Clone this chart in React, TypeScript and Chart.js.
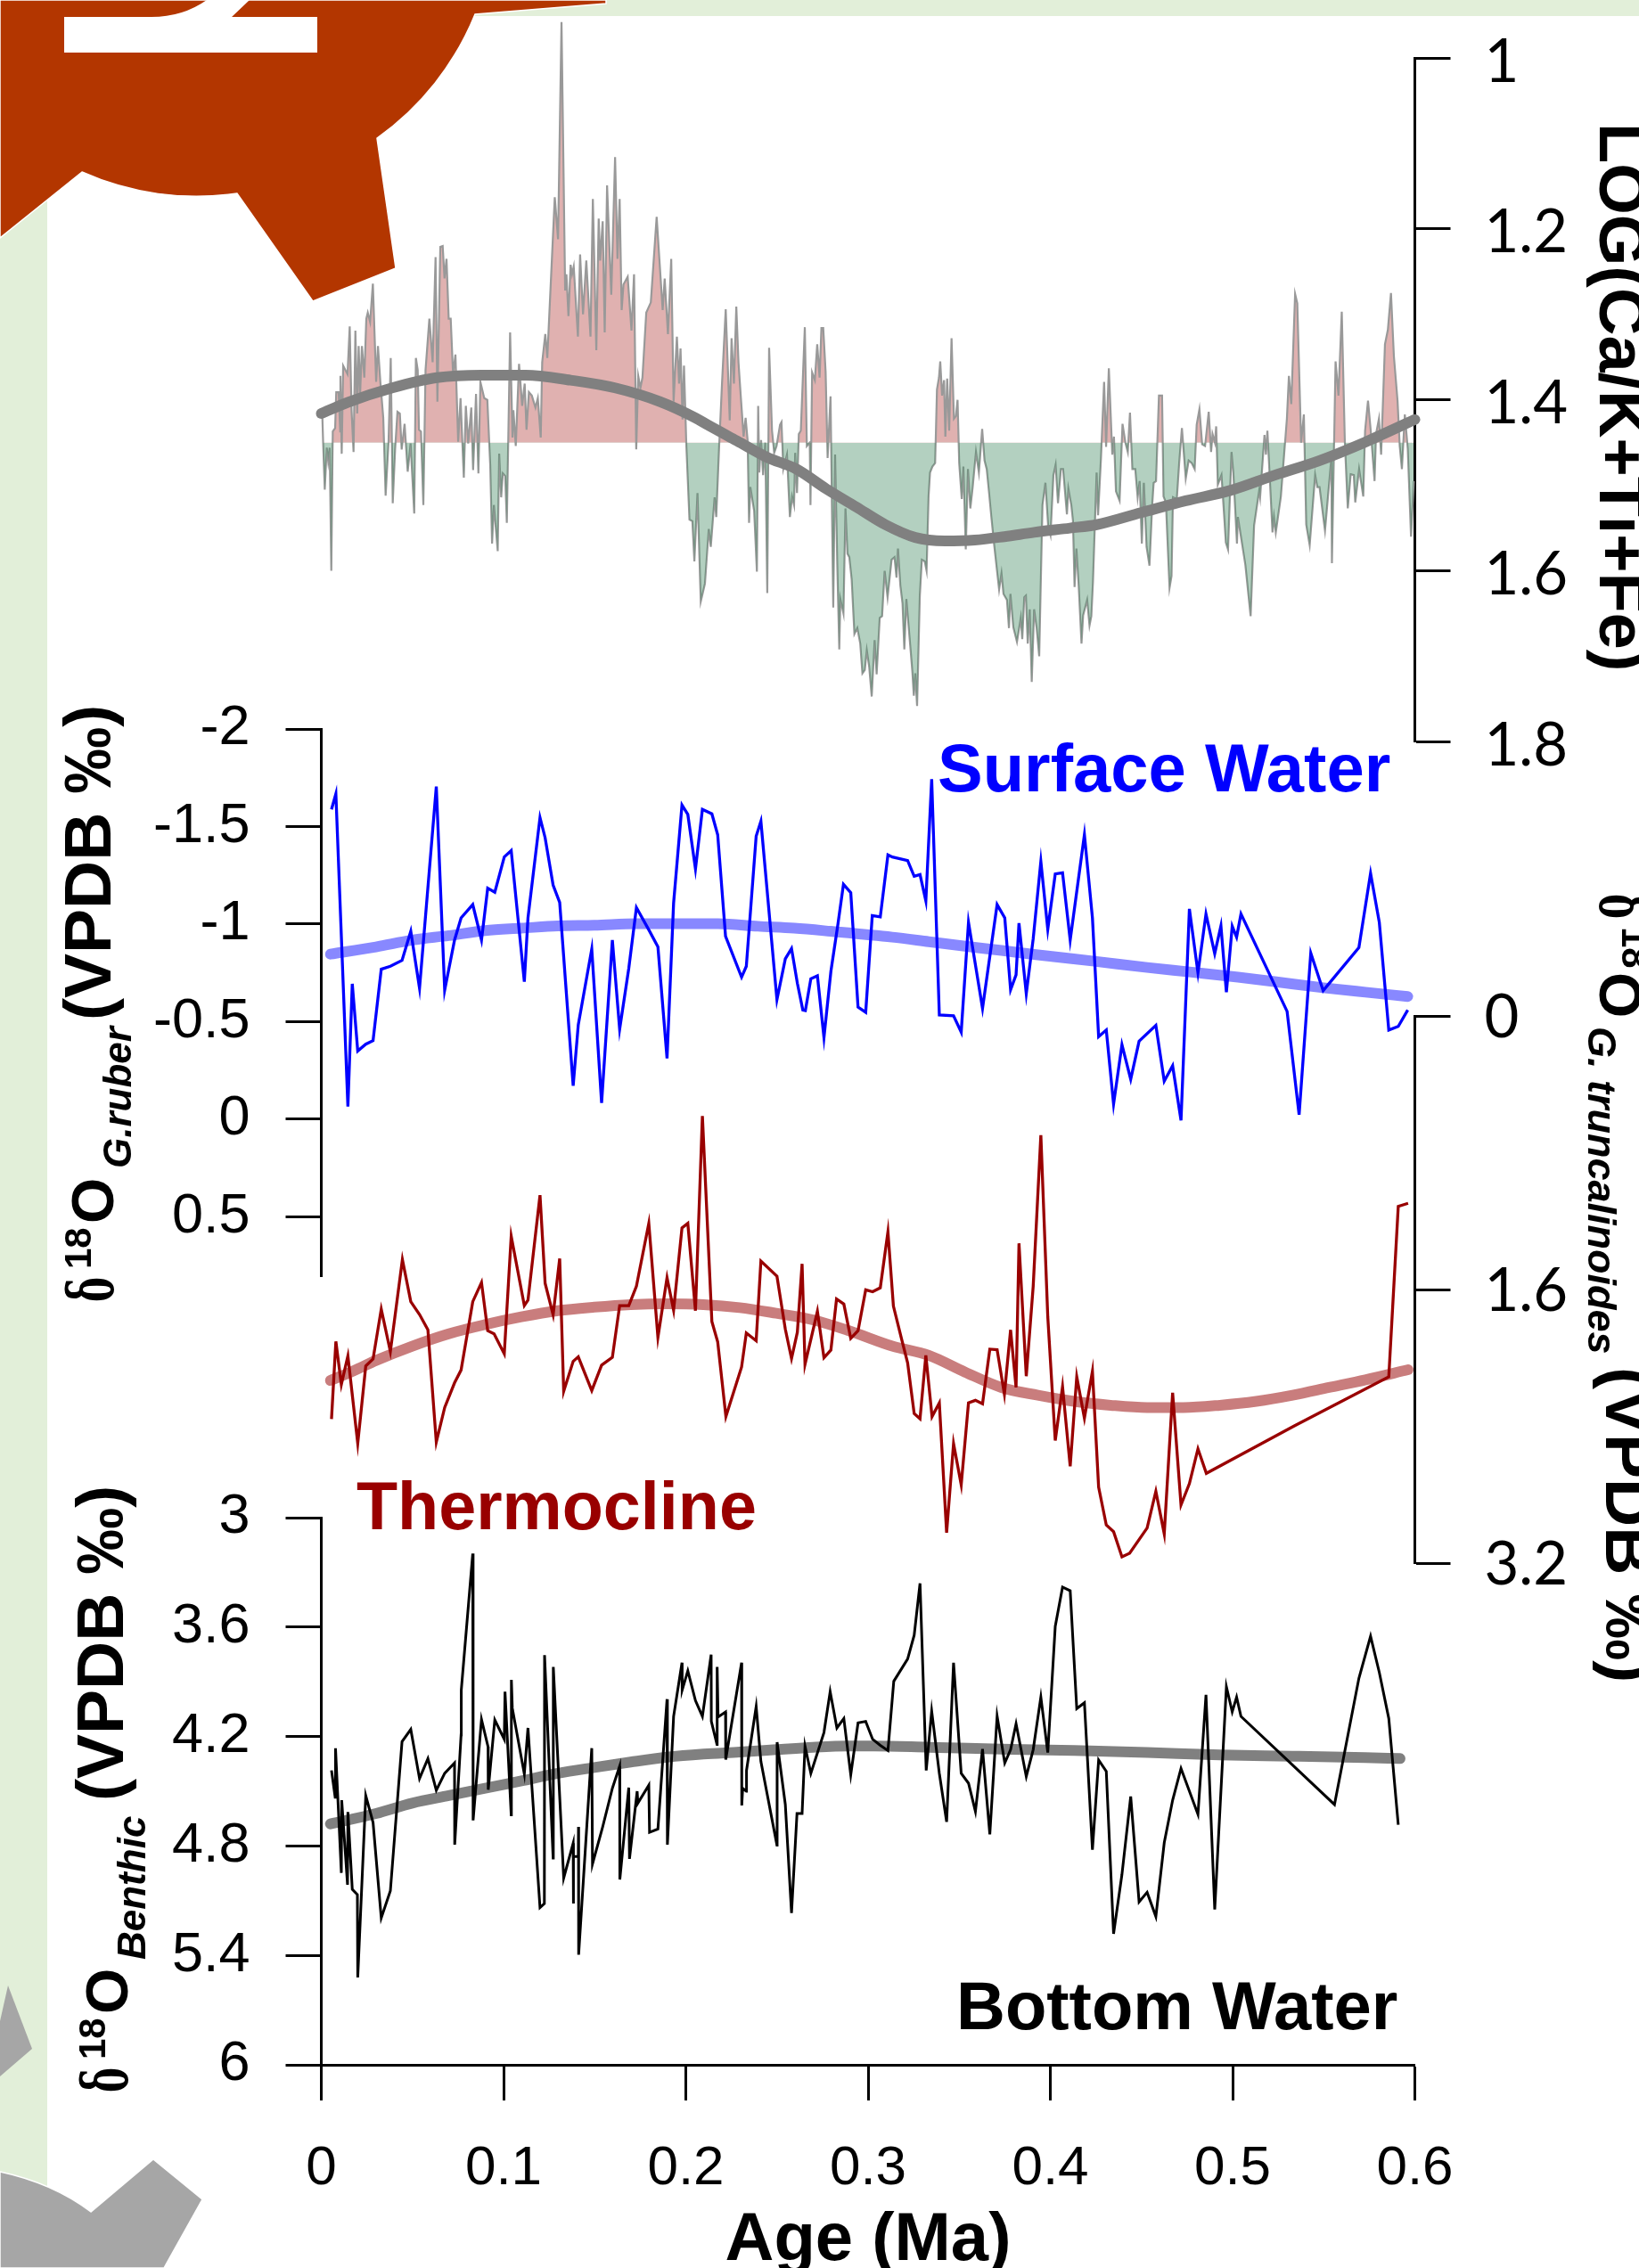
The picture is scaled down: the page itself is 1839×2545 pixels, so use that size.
import React, { useEffect, useRef } from "react";
import { Chart, registerables } from "chart.js";

Chart.register(...registerables);

// [age (Ma), value]
const caRatio: number[][] = [
[.0006,1.421],[.0011,1.456],[.0019,1.505],[.0030,1.456],[.0038,1.472],[.0046,1.456],[.0055,1.600],[.0063,1.437],[.0076,1.433],[.0082,1.391],[.0095,1.391],[.0104,1.437],[.0105,1.372],[.0112,1.463],[.0120,1.360],[.0144,1.370],[.0156,1.314],[.0166,1.412],[.0177,1.461],[.0187,1.319],[.0197,1.416],[.0205,1.337],[.0213,1.393],[.0223,1.337],[.0236,1.374],[.0247,1.305],[.0255,1.298],[.0268,1.309],[.0283,1.264],[.0301,1.379],[.0311,1.337],[.0324,1.379],[.0340,1.421],[.0353,1.512],[.0369,1.449],[.0381,1.351],[.0392,1.521],[.0405,1.458],[.0418,1.414],[.0431,1.416],[.0441,1.458],[.0457,1.428],[.0474,1.484],[.0490,1.451],[.0510,1.533],[.0519,1.351],[.0529,1.365],[.0536,1.435],[.0547,1.437],[.0560,1.523],[.0572,1.365],[.0593,1.305],[.0611,1.356],[.0627,1.233],[.0637,1.402],[.0653,1.221],[.0666,1.220],[.0676,1.258],[.0687,1.235],[.0699,1.305],[.0710,1.305],[.0723,1.370],[.0736,1.347],[.0751,1.449],[.0764,1.398],[.0782,1.491],[.0793,1.407],[.0806,1.451],[.0823,1.409],[.0833,1.482],[.0849,1.393],[.0862,1.486],[.0873,1.379],[.0894,1.398],[.0911,1.400],[.0927,1.477],[.0937,1.568],[.0947,1.523],[.0968,1.577],[.0976,1.463],[.0987,1.514],[.0996,1.486],[.1009,1.489],[.1018,1.544],[.1036,1.321],[.1049,1.444],[.1054,1.412],[.1067,1.454],[.1085,1.358],[.1102,1.407],[.1116,1.381],[.1126,1.435],[.1139,1.391],[.1155,1.395],[.1175,1.409],[.1188,1.398],[.1204,1.444],[.1212,1.356],[.1229,1.323],[.1240,1.351],[.1281,1.163],[.1299,1.212],[.1318,.958],[.1338,1.272],[.1345,1.253],[.1356,1.302],[.1368,1.242],[.1376,1.253],[.1385,1.244],[.1408,1.326],[.1420,1.230],[.1436,1.300],[.1454,1.237],[.1477,1.326],[.1490,1.165],[.1509,1.342],[.1522,1.188],[.1530,1.237],[.1544,1.191],[.1555,1.321],[.1568,1.149],[.1591,1.277],[.1612,1.116],[.1625,1.235],[.1637,1.165],[.1648,1.295],[.1658,1.265],[.1681,1.256],[.1702,1.319],[.1716,1.253],[.1728,1.458],[.1739,1.372],[.1751,1.386],[.1762,1.374],[.1783,1.298],[.1808,1.286],[.1840,1.186],[.1873,1.295],[.1884,1.258],[.1902,1.323],[.1920,1.235],[.1933,1.402],[.1951,1.326],[.1963,1.381],[.1971,1.340],[.1982,1.423],[.1990,1.360],[.2003,1.454],[.2020,1.540],[.2036,1.542],[.2047,1.589],
[.2064,1.509],[.2082,1.636],[.2105,1.615],[.2126,1.551],[.2137,1.572],[.2158,1.514],[.2167,1.537],[.2183,1.454],[.2199,1.379],[.2219,1.294],[.2241,1.424],[.2251,1.328],[.2264,1.381],[.2277,1.291],[.2289,1.356],[.2300,1.391],[.2317,1.443],[.2328,1.421],[.2339,1.447],[.2347,1.544],[.2354,1.502],[.2375,1.530],[.2390,1.601],[.2397,1.407],[.2403,1.485],[.2413,1.447],[.2424,1.488],[.2436,1.450],[.2447,1.626],[.2457,1.339],[.2473,1.436],[.2485,1.462],[.2498,1.454],[.2517,1.429],[.2525,1.426],[.2535,1.481],[.2555,1.464],[.2571,1.537],[.2583,1.513],[.2594,1.523],[.2600,1.462],[.2610,1.509],[.2620,1.440],[.2631,1.436],[.2653,1.315],[.2664,1.454],[.2680,1.450],[.2684,1.523],[.2693,1.368],[.2708,1.377],[.2721,1.335],[.2734,1.374],[.2744,1.316],[.2754,1.316],[.2767,1.367],[.2778,1.468],[.2794,1.396],[.2809,1.643],[.2819,1.464],[.2831,1.593],[.2842,1.692],[.2848,1.633],[.2865,1.650],[.2876,1.527],[.2887,1.580],[.2897,1.584],[.2910,1.610],[.2925,1.674],[.2941,1.667],[.2957,1.685],[.2969,1.720],[.2982,1.716],[.2993,1.693],[.3006,1.712],[.3020,1.747],[.3036,1.681],[.3047,1.721],[.3064,1.655],[.3077,1.653],[.3091,1.600],[.3107,1.631],[.3129,1.587],[.3145,1.584],[.3156,1.608],[.3164,1.574],[.3177,1.617],[.3189,1.638],[.3199,1.692],[.3210,1.633],[.3235,1.697],[.3243,1.718],[.3251,1.746],[.3259,1.720],[.3269,1.758],[.3284,1.629],[.3295,1.587],[.3311,1.589],[.3321,1.600],[.3332,1.513],[.3340,1.485],[.3353,1.478],[.3368,1.474],[.3378,1.388],[.3389,1.374],[.3396,1.355],[.3406,1.395],[.3417,1.377],[.3424,1.443],[.3434,1.375],[.3445,1.436],[.3458,1.328],[.3471,1.422],[.3482,1.419],[.3491,1.400],[.3500,1.474],[.3514,1.516],[.3523,1.478],[.3536,1.575],[.3548,1.481],[.3561,1.527],[.3574,1.502],[.3592,1.461],[.3608,1.485],[.3626,1.434],[.3639,1.471],[.3651,1.481],[.3664,1.509],[.3675,1.534],[.3691,1.568],[.3719,1.622],[.3732,1.603],[.3743,1.627],[.3762,1.634],[.3773,1.667],[.3781,1.627],[.3797,1.666],[.3817,1.683],[.3838,1.655],[.3846,1.680],[.3857,1.631],[.3866,1.629],[.3876,1.685],[.3887,1.645],[.3898,1.730],[.3911,1.645],[.3925,1.667],[.3939,1.700],[.3947,1.620],[.3957,1.523],[.3973,1.497],[.3988,1.547],[.4001,1.558],
[.4017,1.488],[.4029,1.476],[.4042,1.521],[.4058,1.481],[.4070,1.481],[.4091,1.534],[.4099,1.504],[.4115,1.523],[.4124,1.541],[.4133,1.619],[.4143,1.574],[.4156,1.619],[.4171,1.685],[.4180,1.652],[.4202,1.634],[.4215,1.664],[.4225,1.653],[.4234,1.613],[.4254,1.485],[.4262,1.535],[.4278,1.468],[.4295,1.379],[.4306,1.455],[.4321,1.363],[.4340,1.464],[.4349,1.443],[.4360,1.507],[.4380,1.518],[.4396,1.428],[.4412,1.450],[.4425,1.461],[.4437,1.415],[.4450,1.481],[.4466,1.481],[.4479,1.514],[.4490,1.495],[.4502,1.568],[.4513,1.497],[.4528,1.572],[.4544,1.594],[.4559,1.523],[.4567,1.497],[.4580,1.495],[.4596,1.395],[.4613,1.395],[.4621,1.513],[.4634,1.520],[.4654,1.620],[.4665,1.606],[.4673,1.514],[.4694,1.516],[.4707,1.474],[.4722,1.433],[.4743,1.492],[.4759,1.471],[.4776,1.474],[.4792,1.481],[.4803,1.429],[.4818,1.411],[.4833,1.452],[.4849,1.454],[.4869,1.414],[.4882,1.461],[.4890,1.440],[.4903,1.450],[.4910,1.431],[.4919,1.499],[.4939,1.488],[.4952,1.530],[.4963,1.567],[.4975,1.575],[.4994,1.461],[.5004,1.485],[.5024,1.568],[.5029,1.537],[.5070,1.593],[.5099,1.653],[.5118,1.547],[.5146,1.506],[.5151,1.514],[.5175,1.441],[.5183,1.464],[.5191,1.436],[.5219,1.555],[.5227,1.537],[.5237,1.555],[.5265,1.513],[.5298,1.422],[.5309,1.372],[.5322,1.405],[.5343,1.276],[.5355,1.287],[.5376,1.450],[.5391,1.417],[.5404,1.546],[.5423,1.570],[.5453,1.488],[.5465,1.502],[.5477,1.502],[.5507,1.553],[.5542,1.468],[.5545,1.591],[.5565,1.355],[.5581,1.395],[.5599,1.297],[.5616,1.450],[.5632,1.527],[.5648,1.487],[.5665,1.488],[.5673,1.520],[.5694,1.481],[.5717,1.513],[.5727,1.436],[.5743,1.401],[.5758,1.436],[.5779,1.495],[.5787,1.440],[.5803,1.422],[.5815,1.464],[.5836,1.335],[.5852,1.318],[.5869,1.275],[.5885,1.349],[.5905,1.401],[.5917,1.454],[.5929,1.481],[.5945,1.417],[.5961,1.457],[.5979,1.560],[.5994,1.495],
];
const caTrend: number[][] = [[0,1.416],[.0144,1.403],[.0389,1.386],[.0634,1.374],[.0878,1.371],[.1123,1.371],[.1368,1.377],[.1612,1.386],[.1857,1.402],[.2052,1.421],[.2118,1.429],[.2281,1.448],[.2444,1.467],[.2607,1.481],[.2770,1.504],[.2933,1.525],[.3095,1.546],[.3259,1.561],[.3422,1.565],[.3585,1.564],[.3748,1.560],[.3911,1.555],[.4107,1.550],[.4254,1.546],[.4498,1.532],[.4743,1.518],[.4987,1.506],[.5232,1.488],[.5477,1.471],[.5721,1.450],[.6,1.423]];
const caBaseline = 1.45;

const ruber: number[][] = [
[.0056,-1.588],[.0080,-1.668],[.0146,-.065],[.0170,-.694],[.0200,-.350],[.0244,-.385],[.0284,-.403],[.0329,-.769],[.0379,-.784],[.0443,-.814],[.0491,-.963],[.0539,-.671],[.0631,-1.705],[.0677,-.662],[.0731,-.918],[.0767,-1.032],[.0831,-1.100],[.0879,-.918],[.0913,-1.184],[.0952,-1.163],[.1004,-1.344],[.1042,-1.377],[.1114,-.705],[.1134,-1.032],[.1200,-1.546],[.1228,-1.443],[.1272,-1.199],[.1308,-1.111],[.1382,-.172],[.1410,-.484],[.1484,-.872],[.1538,-.084],[.1597,-.918],[.1637,-.461],[.1687,-.773],[.1729,-1.085],[.1797,-.971],[.1847,-.883],[.1897,-.312],[.1933,-1.108],[.1979,-1.610],[.2011,-1.562],[.2053,-1.283],[.2091,-1.588],[.2143,-1.565],[.2175,-1.458],[.2218,-.938],[.2306,-.728],[.2332,-.784],[.2386,-1.451],[.2412,-1.527],[.2500,-.613],[.2546,-.822],[.2580,-.875],[.2612,-.697],[.2642,-.560],[.2656,-.557],[.2686,-.720],[.2722,-.735],[.2758,-.419],[.2796,-.758],[.2835,-1.002],[.2865,-1.204],[.2905,-1.161],[.2945,-.575],[.2987,-.548],
[.3023,-1.044],[.3067,-1.037],[.3109,-1.355],[.3133,-1.344],[.3217,-1.326],[.3253,-1.245],[.3285,-1.254],[.3317,-1.119],[.3349,-1.743],[.3391,-.534],[.3469,-.530],[.3511,-.446],[.3551,-1.009],[.3628,-.568],[.3708,-1.100],[.3750,-1.032],[.3782,-.664],[.3812,-.740],[.3828,-1.005],[.3868,-.644],[.3906,-.925],[.3948,-1.321],[.3986,-.974],[.4027,-1.257],[.4067,-1.263],[.4109,-.918],[.4187,-1.458],[.4231,-1.032],[.4265,-.423],[.4307,-.457],[.4347,-.078],[.4393,-.382],[.4441,-.205],[.4487,-.400],[.4579,-.481],[.4625,-.195],[.4671,-.274],[.4717,.006],[.4763,-1.078],[.4810,-.750],[.4854,-1.052],[.4902,-.849],[.4936,-.991],[.4966,-.651],[.4998,-.989],[.5022,-.933],[.5046,-1.052],[.5299,-.553],[.5365,-.023],[.5429,-.852],[.5497,-.659],[.5693,-.880],[.5757,-1.260],[.5805,-1.009],[.5857,-.457],[.5909,-.476],[.5961,-.560],
];
const ruberTrend: number[][] = [[.0050,-.846],[.0300,-.883],[.0499,-.918],[.0699,-.941],[.0899,-.967],[.1098,-.979],[.1298,-.991],[.1498,-.994],[.1729,-1.002],[.1933,-1.002],[.2177,-1.002],[.2396,-.989],[.2596,-.979],[.2796,-.963],[.3133,-.933],[.3333,-.910],[.3532,-.887],[.3732,-.865],[.3932,-.842],[.4231,-.811],[.4531,-.778],[.4763,-.755],[.5030,-.728],[.5230,-.705],[.5497,-.674],[.5729,-.651],[.5961,-.629]];

const truncatulinoides: number[][] = [
[.0056,2.358],[.0080,1.904],[.0110,2.155],[.0146,1.988],[.0200,2.500],[.0244,2.047],[.0284,2.006],[.0329,1.715],[.0379,1.963],[.0445,1.425],[.0491,1.671],[.0539,1.746],[.0585,1.836],[.0631,2.492],[.0677,2.290],[.0731,2.146],[.0767,2.071],[.0831,1.671],[.0879,1.559],[.0913,1.841],[.0948,1.859],[.1004,1.976],[.1042,1.288],[.1114,1.694],[.1134,1.662],[.1200,1.048],[.1228,1.563],[.1272,1.748],[.1308,1.419],[.1330,2.195],[.1382,2.020],[.1410,1.994],[.1484,2.191],[.1538,2.042],[.1597,1.997],[.1637,1.694],[.1687,1.694],[.1729,1.581],[.1797,1.213],[.1847,1.880],[.1897,1.531],[.1933,1.721],[.1979,1.240],[.2011,1.213],[.2053,1.724],[.2091,.585],[.2143,1.787],[.2175,1.907],[.2220,2.343],[.2306,2.053],[.2332,1.854],[.2386,1.900],[.2412,1.434],[.2500,1.522],[.2546,1.832],[.2580,2.004],[.2612,1.850],[.2638,1.450],[.2654,2.038],[.2722,1.728],[.2758,1.999],[.2796,1.954],[.2827,1.656],[.2867,1.685],[.2905,1.886],[.2945,1.841],[.2987,1.602],
[.3025,1.613],[.3067,1.590],[.3109,1.263],[.3139,1.697],[.3183,1.886],[.3217,2.029],[.3253,2.325],[.3285,2.356],[.3317,1.985],[.3351,2.343],[.3391,2.263],[.3431,3.022],[.3469,2.501],[.3511,2.742],[.3551,2.263],[.3589,2.248],[.3628,2.268],[.3668,1.949],[.3708,1.952],[.3748,2.212],[.3782,1.836],[.3812,2.173],[.3828,1.330],[.3868,2.107],[.3906,1.581],[.3948,.698],[.3986,1.760],[.4027,2.483],[.4067,2.168],[.4109,2.634],[.4145,2.110],[.4187,2.352],[.4231,2.078],[.4265,2.756],[.4307,2.977],[.4347,3.016],[.4393,3.163],[.4435,3.142],[.4531,2.995],[.4579,2.780],[.4625,3.029],[.4671,2.204],[.4717,2.860],[.4763,2.735],[.4810,2.532],[.4856,2.675],[.5339,2.397],[.5857,2.110],[.5909,1.114],[.5963,1.096],
];
const truncatulinoidesTrend: number[][] = [[.0050,2.132],[.0180,2.074],[.0300,2.015],[.0499,1.931],[.0699,1.859],[.0899,1.805],[.1098,1.760],[.1298,1.724],[.1498,1.703],[.1697,1.688],[.1897,1.683],[.2097,1.688],[.2296,1.706],[.2496,1.739],[.2696,1.777],[.2895,1.841],[.3133,1.931],[.3333,1.985],[.3532,2.083],[.3732,2.173],[.3932,2.218],[.4131,2.254],[.4331,2.277],[.4531,2.290],[.4730,2.290],[.4930,2.277],[.5130,2.254],[.5329,2.218],[.5529,2.173],[.5729,2.128],[.5963,2.069]];

const benthic: number[][] = [
[.0056,4.386],[.0076,4.533],[.0078,4.264],[.0110,4.948],[.0112,4.549],[.0144,5.013],[.0146,4.614],[.0170,5.038],[.0198,5.067],[.0200,5.521],[.0244,4.524],[.0284,4.671],[.0329,5.195],[.0379,5.046],[.0443,4.228],[.0491,4.161],[.0539,4.430],[.0585,4.321],[.0631,4.495],[.0677,4.402],[.0731,4.345],[.0732,4.793],[.0767,4.191],[.0768,3.946],[.0831,3.197],[.0833,4.660],[.0879,4.106],[.0915,4.256],[.0916,4.492],[.0952,4.109],[.1004,4.215],[.1008,3.954],[.1042,4.630],[.1043,3.889],[.1048,4.044],[.1114,4.406],[.1134,4.153],[.1200,5.138],[.1224,5.116],[.1225,3.754],[.1272,4.866],[.1273,3.819],[.1330,4.976],[.1382,4.785],[.1383,5.116],[.1384,4.858],[.1410,4.858],[.1411,4.695],[.1412,5.396],[.1484,4.264],[.1488,4.899],[.1544,4.695],[.1597,4.484],[.1637,4.362],[.1638,4.984],[.1687,4.480],[.1691,4.871],[.1733,4.500],[.1737,4.565],[.1797,4.467],[.1801,4.725],[.1847,4.707],[.1897,3.995],[.1899,4.793],[.1933,4.090],[.1979,3.795],[.1980,3.946],[.2011,3.840],[.2053,4.003],[.2091,4.090],[.2139,3.751],[.2140,4.117],[.2171,4.244],[.2172,3.819],[.2177,4.093],[.2218,4.065],[.2219,4.326],[.2306,3.795],[.2307,4.578],[.2312,4.484],[.2332,4.500],[.2333,4.386],[.2386,4.036],[.2412,4.337],[.2500,4.796],[.2501,4.231],[.2546,4.573],[.2580,5.168],[.2610,4.622],[.2638,4.622],[.2654,4.252],[.2686,4.402],[.2758,4.178],[.2792,3.954],[.2829,4.153],[.2867,4.101],[.2905,4.410],[.2945,4.125],[.2987,4.117],
[.3025,4.215],[.3067,4.248],[.3109,4.277],[.3141,3.897],[.3217,3.775],[.3253,3.645],[.3285,3.360],[.3319,4.386],[.3349,4.060],[.3391,4.402],[.3431,4.668],[.3469,3.796],[.3511,4.402],[.3551,4.456],[.3589,4.611],[.3628,4.269],[.3668,4.736],[.3708,4.088],[.3750,4.345],[.3782,4.272],[.3812,4.130],[.3868,4.419],[.3906,4.272],[.3948,3.984],[.3986,4.288],[.4027,3.596],[.4067,3.381],[.4109,3.401],[.4145,4.047],[.4187,4.015],[.4231,4.821],[.4265,4.329],[.4307,4.391],[.4347,5.282],[.4393,4.956],[.4441,4.529],[.4487,5.107],[.4531,5.054],[.4579,5.187],[.4625,4.782],[.4671,4.549],[.4717,4.375],[.4810,4.627],[.4854,3.971],[.4902,5.148],[.4966,3.927],[.4998,4.065],[.5022,3.984],[.5046,4.090],[.5559,4.573],[.5693,3.881],[.5757,3.650],[.5805,3.849],[.5857,4.101],[.5909,4.684],
];
const benthicTrend: number[][] = [[.0050,4.679],[.0300,4.622],[.0499,4.565],[.0699,4.524],[.0899,4.484],[.1098,4.443],[.1298,4.402],[.1498,4.370],[.1697,4.340],[.1897,4.313],[.2097,4.296],[.2296,4.285],[.2496,4.272],[.2696,4.259],[.2895,4.252],[.3033,4.252],[.3333,4.259],[.3732,4.269],[.4131,4.277],[.4531,4.288],[.4930,4.301],[.5329,4.308],[.5729,4.316],[.5919,4.321]];

const ageTicks = [0, 0.1, 0.2, 0.3, 0.4, 0.5, 0.6];
const caTicks = [1, 1.2, 1.4, 1.6, 1.8];
const ruberTicks = [-2, -1.5, -1, -0.5, 0, 0.5];
const truncTicks = [0, 1.6, 3.2];
const benthicTicks = [3, 3.6, 4.2, 4.8, 5.4, 6];

const W = 1839, H = 2545, L = 360.5, R = W - 1587.5;
const SANS = '"Liberation Sans", Arial, sans-serif';
const SERIF = '"DejaVu Serif", serif';

type Run = { text: string; font: string; at: number; rise?: number; stretch?: number };
type Item = { x: number; y: number; angle?: number; color: string; runs: Run[] };

const richText = (items: Item[]) => ({
  id: "richText",
  afterDraw(chart: any) {
    const c = chart.ctx;
    for (const it of items) {
      c.save();
      c.translate(it.x, it.y);
      c.rotate(it.angle ?? 0);
      c.fillStyle = it.color;
      c.textBaseline = "alphabetic";
      c.textAlign = "left";
      for (const r of it.runs) {
        c.save();
        c.font = r.font;
        c.translate(r.at, -(r.rise ?? 0));
        c.scale(1, r.stretch ?? 1);
        c.fillText(r.text, 0, 0);
        c.restore();
      }
      c.restore();
    }
  },
});

const isotopeRuns = (sub: string, subAt: number, unitAt: number, subFont: number, unitFont: number, subRise: number, unitRise: number): Run[] => [
  { text: "δ", font: `bold 42px ${SERIF}`, at: 0, stretch: 1.7 },
  { text: "18", font: `bold 42px ${SANS}`, at: 37, rise: 25 },
  { text: "O", font: `bold 66px ${SANS}`, at: 88 },
  { text: sub, font: `italic bold ${subFont}px ${SANS}`, at: subAt, rise: subRise },
  { text: "(VPDB ‰)", font: `bold ${unitFont}px ${SANS}`, at: unitAt, rise: unitRise },
];

const pts = (a: number[][]) => a.map(([x, y]) => ({ x, y }));

const trendDs = (data: number[][], color: string) => ({
  data: pts(data),
  borderColor: color,
  borderWidth: 12,
  borderCapStyle: "round",
  borderJoinStyle: "round",
  cubicInterpolationMode: "monotone",
  pointRadius: 0,
  fill: false,
  clip: false,
  order: 0,
});

const rawDs = (data: number[][], color: string, width: number) => ({
  data: pts(data),
  borderColor: color,
  borderWidth: width,
  borderJoinStyle: "miter",
  pointRadius: 0,
  fill: false,
  clip: false,
  tension: 0,
  order: 1,
});

const yAxis = (position: string, min: number, max: number, ticks: number[], fontFamily: string, fontSize: number, padding: number, axisWidth: number, labelOffset = 0) => ({
  type: "linear",
  position,
  min,
  max,
  reverse: true,
  bounds: "data",
  afterBuildTicks: (s: any) => { s.ticks = ticks.map((value) => ({ value })); },
  afterFit: (s: any) => { s.width = axisWidth; s.paddingTop = 0; s.paddingBottom = 0; },
  grid: { display: true, drawOnChartArea: false, drawTicks: true, tickLength: 40, tickWidth: 3, tickColor: "#000" },
  border: { display: true, color: "#000", width: 3 },
  ticks: { autoSkip: false, maxRotation: 0, color: "#000", padding, labelOffset, font: { family: fontFamily, size: fontSize }, callback: (v: any) => String(v) },
});

const hiddenX = { type: "linear", min: 0, max: 0.6, display: false };

const baseOptions = (scales: any, top: number, bottom: number, left: number, right: number) => ({
  responsive: false,
  animation: false,
  maintainAspectRatio: false,
  events: [],
  layout: { autoPadding: false, padding: { top, bottom, left, right } },
  plugins: { legend: { display: false }, tooltip: { enabled: false }, title: { display: false } },
  scales,
});

const buildConfigs = (): any[] => [
  {
    type: "line",
    data: {
      datasets: [
        { data: pts(caRatio), borderWidth: 0, pointRadius: 0, tension: 0, fill: { target: { value: caBaseline }, above: "#e0b1b0", below: "rgba(0,0,0,0)" }, order: 4 },
        { ...rawDs(caRatio, "#999999", 2.2), order: 3 },
        { data: pts(caRatio), borderWidth: 0, pointRadius: 0, tension: 0, fill: { target: { value: caBaseline }, above: "rgba(0,0,0,0)", below: "rgba(64,138,98,0.4)" }, order: 2 },
        trendDs(caTrend, "#808080"),
      ],
    },
    options: baseOptions({ x: hiddenX, y: yAxis("right", 1, 1.8, caTicks, "Lato, sans-serif", 67, 38, R, 5) }, 65, H - 832.4, L, 0),
    plugins: [richText([
      { x: 1795, y: 138, angle: Math.PI / 2, color: "#000", runs: [{ text: "LOG(Ca/K+Ti+Fe)", font: `bold 74px ${SANS}`, at: 0 }] },
    ])],
  },
  {
    type: "line",
    data: { datasets: [rawDs(ruber, "#0000ff", 3.3), trendDs(ruberTrend, "#8888ff")].map((d, i) => ({ ...d, order: i === 0 ? 0 : 1 })) },
    options: baseOptions({ x: hiddenX, y: yAxis("left", -2, 0.804, ruberTicks, SANS, 63, 40, L) }, 818, H - 1432, 0, R),
    plugins: [richText([
      { x: 1052, y: 888, color: "#0000ff", runs: [{ text: "Surface Water", font: `bold 76px ${SANS}`, at: 0 }] },
      { x: 127, y: 1461, angle: -Math.PI / 2, color: "#000", runs: isotopeRuns("G.ruber", 150, 316, 44, 75, -20, 3) },
    ])],
  },
  {
    type: "line",
    data: { datasets: [rawDs(truncatulinoides, "#990000", 3.3), trendDs(truncatulinoidesTrend, "#c97d7d")].map((d, i) => ({ ...d, order: i === 0 ? 0 : 1 })) },
    options: baseOptions({ x: hiddenX, y: yAxis("right", 0, 3.2, truncTicks, "Lato, sans-serif", 67, 38, R, 2) }, 1140, H - 1754, L, 0),
    plugins: [richText([
      { x: 400, y: 1716, color: "#990000", runs: [{ text: "Thermocline", font: `bold 75.5px ${SANS}`, at: 0 }] },
      { x: 1795, y: 1003, angle: Math.PI / 2, color: "#000", runs: isotopeRuns("G. truncalinoides", 149, 531, 45, 75, -13, 7) },
    ])],
  },
  {
    type: "line",
    data: { datasets: [rawDs(benthic, "#000000", 3), trendDs(benthicTrend, "#808080")].map((d, i) => ({ ...d, order: i === 0 ? 0 : 1 })) },
    options: baseOptions({
      x: {
        type: "linear",
        position: "bottom",
        min: 0,
        max: 0.6,
        bounds: "data",
        afterBuildTicks: (s: any) => { s.ticks = ageTicks.map((value) => ({ value })); },
        afterFit: (s: any) => { s.height = H - 2317; },
        grid: { display: true, drawOnChartArea: false, drawTicks: true, tickLength: 40, tickWidth: 3, tickColor: "#000" },
        border: { display: true, color: "#000", width: 3 },
        ticks: { autoSkip: false, maxRotation: 0, color: "#000", padding: 40, font: { family: SANS, size: 62 }, callback: (v: any) => String(v) },
        title: { display: true, text: "Age (Ma)", color: "#000", padding: 0, font: { family: SANS, size: 76, weight: "bold", lineHeight: 0.78 } },
      },
      y: yAxis("left", 3, 6, benthicTicks, SANS, 63, 40, L),
    }, 1703, 0, 0, R),
    plugins: [richText([
      { x: 1073, y: 2277, color: "#000", runs: [{ text: "Bottom Water", font: `bold 76px ${SANS}`, at: 0 }] },
      { x: 143, y: 2348, angle: -Math.PI / 2, color: "#000", runs: isotopeRuns("Benthic", 149, 327, 44, 75, -20, 5) },
    ])],
  },
];

export default function App() {
  const refs = useRef<(HTMLCanvasElement | null)[]>([]);
  useEffect(() => {
    const charts = buildConfigs().map((cfg, i) => new Chart(refs.current[i] as HTMLCanvasElement, cfg));
    return () => charts.forEach((c) => c.destroy());
  }, []);
  return (
    <div style={{ position: "fixed", left: 0, top: 0, width: W, height: H, overflow: "hidden", background: "#fff" }}>
      <svg width={W} height={H} style={{ position: "absolute", left: 0, top: 0 }}>
        <rect x={0} y={0} width={W} height={18} fill="#e2efd9" />
        <rect x={0} y={0} width={53} height={H} fill="#e2efd9" />
        <path d="M0,0 L680,0 L680,4 L533,16 A315,315 0 0 1 423,155 L444,301 L351,338 L266,217 A315,315 0 0 1 92,193 L0,267 Z" fill="#b33600" stroke="#fff" strokeWidth={1.5} />
        <path d="M72,19 L170,19 Q205,19 232,0 L280,0 L260,19 L356,19 L356,59 L72,59 Z" fill="#fff" />
        <path d="M0,2437 Q60,2450 102,2482 L172,2423 L227,2468 L184,2545 L0,2545 Z" fill="#a6a6a6" stroke="#fff" strokeWidth={1.5} />
        <path d="M9,2228 L36,2299 L0,2330 L0,2268 Z" fill="#a6a6a6" />
      </svg>
      {[0, 1, 2, 3].map((i) => (
        <canvas
          key={i}
          ref={(el) => { refs.current[i] = el; }}
          width={W}
          height={H}
          style={{ position: "absolute", left: 0, top: 0 }}
        />
      ))}
    </div>
  );
}
